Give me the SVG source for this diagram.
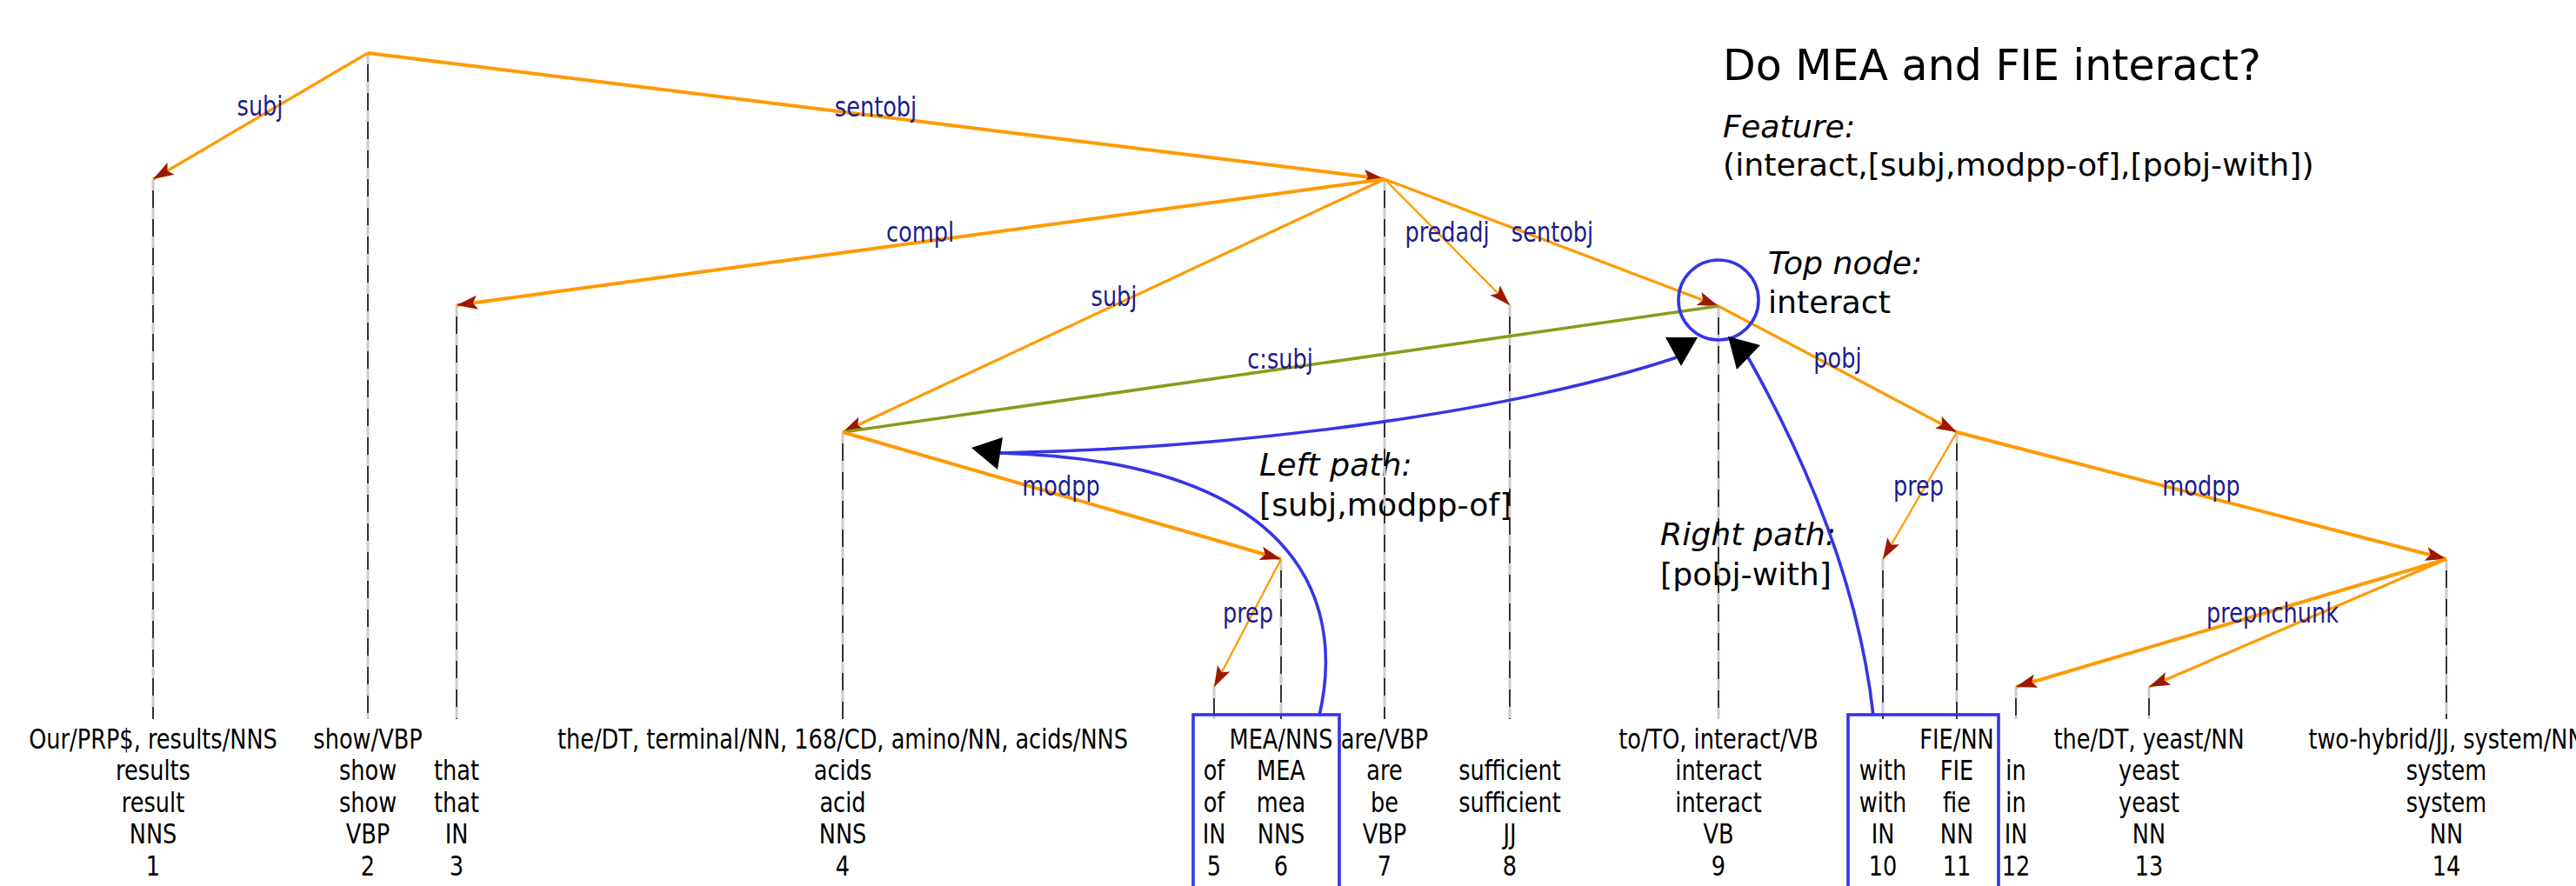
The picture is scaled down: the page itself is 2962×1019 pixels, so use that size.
<svg xmlns="http://www.w3.org/2000/svg" width="2962" height="1019" viewBox="0 0 2962 1019">
<style>
text{font-family:"DejaVu Sans","Liberation Sans",sans-serif}
.w{font-size:32px;fill:#000;text-anchor:middle}
.lbl{font-size:32px;fill:#1c1c8c;text-anchor:middle}
.ann{font-size:36.3px;fill:#000}
.it{font-style:italic}
.title{font-size:49px;fill:#000}
.sg{stroke:#cccccc;stroke-width:3;stroke-dasharray:13 20;fill:none}
.sb{stroke:#000;stroke-width:1.6;stroke-dasharray:20 13;stroke-dashoffset:20;fill:none}
.e{stroke:#ff9a00;fill:none;marker-end:url(#ah)}
.t1{stroke-width:2.3}
.t2{stroke-width:3.2}
.t3{stroke-width:4}
.ol{stroke:#8c9a18;stroke-width:3.6;fill:none}
.bl{stroke:#3535e6;stroke-width:3.6;fill:none}
.big{fill:#000}
</style>
<defs>
<marker id="ah" markerUnits="userSpaceOnUse" markerWidth="28" markerHeight="20" viewBox="-26 -10 28 20" refX="0" refY="0" orient="auto" overflow="visible">
<path d="M0,0 L-24,-8 L-19,0 L-24,8 Z" fill="#9c1800"/>
</marker>
</defs>
<rect width="2962" height="1019" fill="#fff"/>

<g id="annotations">
<text class="title" x="1981" y="92">Do MEA and FIE interact?</text>
<text class="ann it" x="1981" y="158">Feature:</text>
<text class="ann" x="1981" y="202">(interact,[subj,modpp-of],[pobj-with])</text>
<text class="ann it" x="2033" y="315">Top node:</text>
<text class="ann" x="2033" y="360">interact</text>
<text class="ann it" x="1448" y="547">Left path:</text>
<text class="ann" x="1448" y="593">[subj,modpp-of]</text>
<text class="ann it" x="1909" y="627">Right path:</text>
<text class="ann" x="1909" y="673">[pobj-with]</text>
</g>

<g id="node1"><path class="sg" d="M176,206V827"/><path class="sb" d="M176,206V827"/>
<text class="w" transform="matrix(0.8,0,0,1,176,0)"><tspan x="0" y="861">Our/PRP$, results/NNS</tspan><tspan x="0" y="897.5">results</tspan><tspan x="0" y="934">result</tspan><tspan x="0" y="970.5">NNS</tspan><tspan x="0" y="1007">1</tspan></text></g>
<g id="node2"><path class="sg" d="M423,61V827"/><path class="sb" d="M423,61V827"/>
<text class="w" transform="matrix(0.8,0,0,1,423,0)"><tspan x="0" y="861">show/VBP</tspan><tspan x="0" y="897.5">show</tspan><tspan x="0" y="934">show</tspan><tspan x="0" y="970.5">VBP</tspan><tspan x="0" y="1007">2</tspan></text></g>
<g id="node3"><path class="sg" d="M525,351V827"/><path class="sb" d="M525,351V827"/>
<text class="w" transform="matrix(0.8,0,0,1,525,0)"><tspan x="0" y="897.5">that</tspan><tspan x="0" y="934">that</tspan><tspan x="0" y="970.5">IN</tspan><tspan x="0" y="1007">3</tspan></text></g>
<g id="node4"><path class="sg" d="M969,497V827"/><path class="sb" d="M969,497V827"/>
<text class="w" transform="matrix(0.8,0,0,1,969,0)"><tspan x="0" y="861">the/DT, terminal/NN, 168/CD, amino/NN, acids/NNS</tspan><tspan x="0" y="897.5">acids</tspan><tspan x="0" y="934">acid</tspan><tspan x="0" y="970.5">NNS</tspan><tspan x="0" y="1007">4</tspan></text></g>
<g id="node5"><path class="sg" d="M1396,790V827"/><path class="sb" d="M1396,790V827"/>
<text class="w" transform="matrix(0.8,0,0,1,1396,0)"><tspan x="0" y="897.5">of</tspan><tspan x="0" y="934">of</tspan><tspan x="0" y="970.5">IN</tspan><tspan x="0" y="1007">5</tspan></text></g>
<g id="node6"><path class="sg" d="M1473,643V827"/><path class="sb" d="M1473,643V827"/>
<text class="w" transform="matrix(0.8,0,0,1,1473,0)"><tspan x="0" y="861">MEA/NNS</tspan><tspan x="0" y="897.5">MEA</tspan><tspan x="0" y="934">mea</tspan><tspan x="0" y="970.5">NNS</tspan><tspan x="0" y="1007">6</tspan></text></g>
<g id="node7"><path class="sg" d="M1592,206V827"/><path class="sb" d="M1592,206V827"/>
<text class="w" transform="matrix(0.8,0,0,1,1592,0)"><tspan x="0" y="861">are/VBP</tspan><tspan x="0" y="897.5">are</tspan><tspan x="0" y="934">be</tspan><tspan x="0" y="970.5">VBP</tspan><tspan x="0" y="1007">7</tspan></text></g>
<g id="node8"><path class="sg" d="M1736,351V827"/><path class="sb" d="M1736,351V827"/>
<text class="w" transform="matrix(0.8,0,0,1,1736,0)"><tspan x="0" y="897.5">sufficient</tspan><tspan x="0" y="934">sufficient</tspan><tspan x="0" y="970.5">JJ</tspan><tspan x="0" y="1007">8</tspan></text></g>
<g id="node9"><path class="sg" d="M1976,352V827"/><path class="sb" d="M1976,352V827"/>
<text class="w" transform="matrix(0.8,0,0,1,1976,0)"><tspan x="0" y="861">to/TO, interact/VB</tspan><tspan x="0" y="897.5">interact</tspan><tspan x="0" y="934">interact</tspan><tspan x="0" y="970.5">VB</tspan><tspan x="0" y="1007">9</tspan></text></g>
<g id="node10"><path class="sg" d="M2165,643V827"/><path class="sb" d="M2165,643V827"/>
<text class="w" transform="matrix(0.8,0,0,1,2165,0)"><tspan x="0" y="897.5">with</tspan><tspan x="0" y="934">with</tspan><tspan x="0" y="970.5">IN</tspan><tspan x="0" y="1007">10</tspan></text></g>
<g id="node11"><path class="sg" d="M2250,497V827"/><path class="sb" d="M2250,497V827"/>
<text class="w" transform="matrix(0.8,0,0,1,2250,0)"><tspan x="0" y="861">FIE/NN</tspan><tspan x="0" y="897.5">FIE</tspan><tspan x="0" y="934">fie</tspan><tspan x="0" y="970.5">NN</tspan><tspan x="0" y="1007">11</tspan></text></g>
<g id="node12"><path class="sg" d="M2318,790V827"/><path class="sb" d="M2318,790V827"/>
<text class="w" transform="matrix(0.8,0,0,1,2318,0)"><tspan x="0" y="897.5">in</tspan><tspan x="0" y="934">in</tspan><tspan x="0" y="970.5">IN</tspan><tspan x="0" y="1007">12</tspan></text></g>
<g id="node13"><path class="sg" d="M2471,790V827"/><path class="sb" d="M2471,790V827"/>
<text class="w" transform="matrix(0.8,0,0,1,2471,0)"><tspan x="0" y="861">the/DT, yeast/NN</tspan><tspan x="0" y="897.5">yeast</tspan><tspan x="0" y="934">yeast</tspan><tspan x="0" y="970.5">NN</tspan><tspan x="0" y="1007">13</tspan></text></g>
<g id="node14"><path class="sg" d="M2813,643V827"/><path class="sb" d="M2813,643V827"/>
<text class="w" transform="matrix(0.8,0,0,1,2813,0)"><tspan x="0" y="861">two-hybrid/JJ, system/NN</tspan><tspan x="0" y="897.5">system</tspan><tspan x="0" y="934">system</tspan><tspan x="0" y="970.5">NN</tspan><tspan x="0" y="1007">14</tspan></text></g>

<g id="connectors">
<path class="e t2" d="M423,61L176,206"/>
<path class="e t3" d="M423,61L1592,206"/>
<path class="e t3" d="M1592,206L525,351"/>
<path class="e t2" d="M1592,206L969,497"/>
<path class="e t1" d="M1592,206L1736,351"/>
<path class="e t2" d="M1592,206L1976,352"/>
<path class="ol" d="M1976,352L969,497"/>
<path class="e t2" d="M1976,352L2250,497"/>
<path class="e t3" d="M969,497L1473,643"/>
<path class="e t1" d="M1473,643L1396,790"/>
<path class="e t1" d="M2250,497L2165,643"/>
<path class="e t3" d="M2250,497L2813,643"/>
<path class="e t3" d="M2813,643L2318,790"/>
<path class="e t2" d="M2813,643L2471,790"/>
<text class="lbl" transform="matrix(0.8,0,0,1,299,0)" x="0" y="133">subj</text>
<text class="lbl" transform="matrix(0.8,0,0,1,1007,0)" x="0" y="134">sentobj</text>
<text class="lbl" transform="matrix(0.8,0,0,1,1058,0)" x="0" y="278">compl</text>
<text class="lbl" transform="matrix(0.8,0,0,1,1281,0)" x="0" y="352">subj</text>
<text class="lbl" transform="matrix(0.8,0,0,1,1664,0)" x="0" y="278">predadj</text>
<text class="lbl" transform="matrix(0.8,0,0,1,1785,0)" x="0" y="278">sentobj</text>
<text class="lbl" transform="matrix(0.8,0,0,1,1472,0)" x="0" y="424">c:subj</text>
<text class="lbl" transform="matrix(0.8,0,0,1,2113,0)" x="0" y="423">pobj</text>
<text class="lbl" transform="matrix(0.8,0,0,1,1220,0)" x="0" y="570">modpp</text>
<text class="lbl" transform="matrix(0.8,0,0,1,1435,0)" x="0" y="716">prep</text>
<text class="lbl" transform="matrix(0.8,0,0,1,2206,0)" x="0" y="570">prep</text>
<text class="lbl" transform="matrix(0.8,0,0,1,2531,0)" x="0" y="570">modpp</text>
<text class="lbl" transform="matrix(0.8,0,0,1,2613,0)" x="0" y="716">prepnchunk</text>
</g>

<g id="highlights">
<circle class="bl" cx="1976" cy="345" r="46"/>
<rect class="bl" x="1372" y="822" width="168" height="210"/>
<rect class="bl" x="2125" y="822" width="173" height="210"/>
<path class="bl" d="M1517,823 C1550,680 1480,530 1150,521"/>
<path class="bl" d="M1150,521 C1450,515 1750,470 1928,411"/>
<path class="bl" d="M2154,823 C2135,650 2060,500 2010,411"/>
<polygon class="big" points="1117,515 1153,503 1147,540"/>
<polygon class="big" points="1915,388 1952,388 1933,421"/>
<polygon class="big" points="1987,387 2024,397 1997,425"/>
</g>
</svg>
